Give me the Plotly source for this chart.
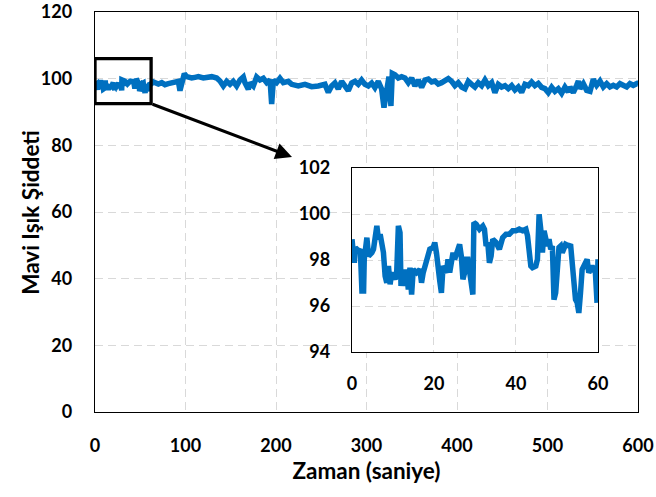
import plotly.graph_objects as go

# Blue light intensity over time (seconds)
time_s = [
    0.0, 0.57, 0.81, 1.62, 2.02, 2.42, 2.83, 2.99, 3.63, 4.04, 4.85, 5.25, 6.06, 6.46,
    6.87, 7.27, 7.67, 8.08, 8.48, 8.89, 9.29, 9.69, 10.5, 10.9, 11.31, 11.71, 11.95,
    12.52, 12.92, 13.33, 13.73, 14.14, 14.54, 14.94, 15.75, 16.56, 16.96, 17.37, 18.17,
    18.98, 19.79, 20.19, 20.6, 21.0, 21.41, 21.81, 22.21, 23.02, 23.42, 23.83, 24.64,
    25.04, 25.85, 26.25, 26.66, 27.06, 27.46, 27.87, 28.27, 28.68, 29.08, 29.48, 29.73,
    30.29, 31.1, 31.91, 32.31, 32.71, 33.12, 33.52, 33.93, 34.33, 35.14, 35.95, 36.75,
    37.56, 38.37, 39.18, 39.98, 40.79, 41.6, 42.41, 42.81, 43.62, 44.02, 44.83, 45.23,
    45.64, 46.04, 46.45, 46.85, 47.25, 47.66, 48.06, 48.47, 48.87, 49.27, 49.68, 50.08,
    50.48, 50.89, 51.29, 52.1, 52.91, 53.31, 53.72, 54.12, 54.52, 54.93, 55.33, 55.74,
    56.14, 56.95, 57.35, 57.75, 58.16, 58.56, 59.37, 59.77, 60.0,
    64.5, 70.0, 73.7, 77.3, 81.0, 84.7, 88.4, 92.1, 93.9, 95.8, 98.7, 101.3, 106.8,
    110.5, 114.2, 119.7, 125.2, 129.0, 134.5, 138.1, 141.8, 145.5, 149.2, 152.8, 156.5,
    160.2, 163.9, 165.7, 169.4, 171.3, 174.9, 178.6, 182.3, 186.0, 189.7, 193.4, 195.2,
    197.1, 200.7, 204.4, 208.1, 213.6, 217.3, 224.6, 232.0, 239.4, 246.7, 254.1, 257.8,
    261.5, 265.1, 268.8, 272.5, 276.2, 279.9, 283.6, 287.2, 290.9, 294.6, 298.3, 302.0,
    305.7, 309.3, 313.0, 316.7, 319.3, 322.2, 324.8, 327.0, 328.5, 331.4, 335.1, 338.8,
    342.5, 346.2, 349.9, 353.5, 357.2, 360.9, 364.6, 368.3, 372.0, 375.6, 379.3, 383.0,
    386.7, 390.4, 394.1, 397.7, 401.4, 405.1, 408.8, 412.5, 416.2, 419.8, 423.5, 427.2,
    430.9, 434.6, 438.3, 441.9, 445.6, 449.3, 453.0, 456.7, 460.4, 464.0, 467.7, 471.4,
    475.1, 478.8, 482.5, 486.1, 489.8, 493.5, 497.2, 500.9, 504.6, 508.2, 511.9, 515.6,
    519.3, 523.0, 524.8, 528.5, 532.2, 534.1, 535.9, 539.6, 543.3, 547.0, 550.6, 554.3,
    558.0, 561.7, 565.4, 569.0, 572.7, 576.4, 580.1, 583.8, 587.5, 591.1, 594.8, 598.5,
    600.0,
]

intensity = [
    98.9, 97.88, 98.54, 98.39, 98.47, 96.65, 96.65, 98.03, 98.97, 98.17, 98.32, 98.47,
    99.48, 98.9, 99.12, 98.61, 98.32, 97.3, 97.01, 97.74, 96.94, 97.45, 97.16, 97.45,
    99.48, 99.19, 96.87, 97.59, 96.87, 97.59, 96.72, 97.67, 96.5, 97.59, 97.45, 97.59,
    97.01, 97.45, 97.88, 98.47, 98.54, 98.76, 98.32, 97.88, 97.08, 96.57, 97.74, 97.45,
    98.03, 97.45, 98.32, 98.03, 98.61, 98.68, 98.17, 97.16, 97.45, 98.03, 98.03, 97.59,
    97.16, 96.5, 99.63, 99.56, 99.34, 99.48, 99.34, 98.61, 98.76, 97.88, 98.17, 98.9,
    98.76, 98.47, 98.97, 99.12, 99.12, 99.27, 99.27, 99.34, 99.27, 99.34, 99.05, 97.74,
    97.67, 97.74, 98.03, 99.99, 99.34, 98.32, 99.27, 98.9, 98.61, 98.9, 98.47, 98.61,
    96.28, 96.57, 98.03, 98.54, 98.61, 98.32, 98.68, 98.61, 98.68, 97.74, 96.57, 96.28,
    96.14, 95.7, 96.57, 97.59, 97.88, 98.03, 97.45, 97.59, 97.74, 97.45, 96.14, 98.03,
    99.0, 98.4, 98.8, 98.2, 98.5, 98.7, 99.1, 99.2, 96.4, 99.2, 101.5, 100.6, 100.2,
    100.4, 100.6, 100.2, 100.4, 100.6, 100.2, 99.3, 97.8, 99.2, 98.3, 99.2, 97.8,
    99.6, 100.5, 98.8, 96.8, 98.8, 97.8, 100.5, 99.6, 100.1, 98.8, 99.6, 92.4,
    99.6, 98.8, 100.1, 98.8, 99.2, 98.3, 97.8, 98.3, 97.6, 97.8, 98.3, 95.9,
    97.8, 98.7, 96.9, 99.2, 97.8, 96.4, 98.7, 99.2, 98.3, 99.6, 98.3, 97.8,
    98.7, 97.3, 99.2, 96.9, 91.3, 97.8, 100.6, 91.8, 101.6, 101.2, 100.2, 100.6,
    100.2, 98.8, 100.2, 97.8, 99.6, 97.4, 99.6, 99.9, 99.0, 99.3, 98.4, 98.8,
    99.3, 100.0, 99.2, 97.9, 98.8, 97.5, 97.0, 99.2, 98.3, 97.5, 98.8, 97.9,
    99.6, 97.9, 98.8, 95.8, 98.3, 97.5, 97.9, 97.0, 97.9, 96.6, 97.5, 95.9,
    98.3, 97.9, 99.0, 97.9, 98.6, 97.4, 97.0, 95.8, 97.4, 96.2, 97.0, 95.6,
    97.5, 96.0, 97.5, 95.8, 98.0, 99.3, 97.0, 98.5, 96.5, 96.2, 99.8, 98.0,
    99.3, 97.5, 98.5, 97.5, 98.0, 97.5, 98.5, 98.0, 97.5, 98.5, 98.0, 98.5,
    98.0,
]

x_ticks = [0, 100, 200, 300, 400, 500, 600]
y_ticks = [0, 20, 40, 60, 80, 100, 120]
inset_x_ticks = [0, 20, 40, 60]
inset_y_ticks = [94, 96, 98, 100, 102]

# Detail window: first minute, 94-102 on the intensity scale
zoom_x = [0, 62]
zoom_y = [92.5, 106]

BLUE = "#0070C0"
GRID = "#D9D9D9"
FONT = "Lato"

tick_font = dict(family=FONT, size=18, color="black", weight="bold")
title_font = dict(family=FONT, size=22.5, color="black", weight="bold")

fig = go.Figure()

fig.add_trace(go.Scatter(
    x=time_s, y=intensity, mode="lines",
    line=dict(color=BLUE, width=5.5), xaxis="x", yaxis="y",
    showlegend=False, hoverinfo="skip",
))

inset_t = [t for t in time_s if t <= inset_x_ticks[-1]]
inset_v = intensity[:len(inset_t)]
fig.add_trace(go.Scatter(
    x=inset_t, y=inset_v, mode="lines",
    line=dict(color=BLUE, width=5.5), xaxis="x2", yaxis="y2",
    showlegend=False, hoverinfo="skip",
))

axis_common = dict(
    showline=True, mirror=True, linecolor="black", linewidth=1.4,
    showgrid=True, gridcolor=GRID, gridwidth=1.3, griddash="8px,5px",
    zeroline=False, ticks="", tickfont=tick_font, fixedrange=True,
    automargin=False,
)

fig.update_layout(
    width=656, height=497,
    margin=dict(l=95, r=18, t=12, b=85),
    paper_bgcolor="white", plot_bgcolor="white",
    xaxis=dict(
        domain=[0, 1], range=[0, 600], tickvals=x_ticks, ticklabelstandoff=17,
        title=dict(text="Zaman (saniye)", font=title_font, standoff=8),
        **axis_common,
    ),
    yaxis=dict(
        domain=[0, 1], range=[0, 120], tickvals=y_ticks, ticklabelstandoff=18,
        **axis_common,
    ),
    xaxis2=dict(
        domain=[0.4733, 0.9263], range=[0, 60], tickvals=inset_x_ticks,
        anchor="y2", ticklabelstandoff=15, **axis_common,
    ),
    yaxis2=dict(
        domain=[0.15, 0.61], range=[94, 102], tickvals=inset_y_ticks,
        anchor="x2", ticklabelstandoff=17, **axis_common,
    ),
    shapes=[
        # white backing so the main grid does not show through the inset
        dict(type="rect", xref="x2", yref="y2", x0=0, x1=60, y0=94, y1=102,
             fillcolor="white", line=dict(width=0), layer="below"),
        dict(type="rect", xref="x", yref="y",
             x0=zoom_x[0], x1=zoom_x[1], y0=zoom_y[0], y1=zoom_y[1],
             line=dict(color="black", width=3.3), fillcolor="rgba(0,0,0,0)",
             layer="above"),
    ],
    annotations=[
        dict(xref="x", yref="y", x=217.7, y=76.5,
             axref="x", ayref="y", ax=zoom_x[1], ay=zoom_y[0],
             text="", showarrow=True, arrowhead=2, arrowsize=1.1,
             arrowwidth=3, arrowcolor="black", standoff=0, startstandoff=0),
        # y-axis title
        dict(xref="paper", yref="paper", x=-0.12, y=0.5,
             xanchor="center", yanchor="middle", textangle=-90,
             text="Mavi Işık Şiddeti", font=title_font, showarrow=False),
    ],
)

fig.write_html("out.html")
